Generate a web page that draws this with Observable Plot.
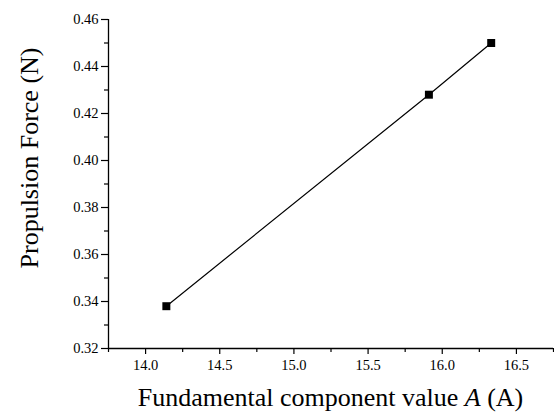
<!DOCTYPE html>
<html>
<head>
<meta charset="utf-8">
<script src="https://cdn.jsdelivr.net/npm/d3@7"></script>
<script src="https://cdn.jsdelivr.net/npm/@observablehq/plot@0.6"></script>
<style>
  html, body { margin: 0; padding: 0; background: #fff; }
  #chart svg { display: block; }
</style>
</head>
<body>
<div id="chart"></div>
<script>
// Fundamental current component vs. measured propulsion force
const currentA = [14.14, 15.91, 16.33];
const forceN = [0.338, 0.428, 0.450];

const xTicks = [14.0, 14.5, 15.0, 15.5, 16.0, 16.5];
const xMinor = [13.75, 14.25, 14.75, 15.25, 15.75, 16.25, 16.75];
const yTicks = [0.32, 0.34, 0.36, 0.38, 0.40, 0.42, 0.44, 0.46];
const yMinor = [0.33, 0.35, 0.37, 0.39, 0.41, 0.43, 0.45];

const xTitle = ["Fundamental component value ", "A", " (A)"];
const yTitle = "Propulsion Force (N)";

const points = currentA.map((a, i) => ({a, f: forceN[i]}));

const W = 554, H = 415;
const font = "Liberation Serif, Times New Roman, serif";

const plot = Plot.plot({
  width: W,
  height: H,
  marginLeft: 108,
  marginRight: 1,
  marginTop: 19,
  marginBottom: 67,
  style: {fontFamily: font, fontSize: "14.5px", color: "#000", background: "#fff"},
  x: {domain: [13.75, 16.75]},
  y: {domain: [0.32, 0.46]},
  marks: [
    Plot.axisX({ticks: xTicks, tickSize: 6, tickPadding: 5, tickFormat: d3.format(".1f"), label: null,
      fontFamily: font, fontSize: 14.5, strokeWidth: 1.2}),
    Plot.axisX({ticks: xMinor, tickSize: 4, text: null, label: null, strokeWidth: 1.2}),
    Plot.axisY({ticks: yTicks, tickSize: 7, tickPadding: 3, tickFormat: d3.format(".2f"), label: null,
      fontFamily: font, fontSize: 14.5, strokeWidth: 1.2}),
    Plot.axisY({ticks: yMinor, tickSize: 4, text: null, label: null, strokeWidth: 1.2}),
    Plot.ruleY([0.32], {strokeWidth: 1.3}),
    Plot.ruleX([13.75], {strokeWidth: 1.3}),
    Plot.line(points, {x: "a", y: "f", stroke: "#000", strokeWidth: 1.2}),
    Plot.dot(points, {x: "a", y: "f", symbol: "square", r: 4.5, fill: "#000", stroke: "none"})
  ]
});

const svg = d3.select(plot);

const xt = svg.append("text")
  .attr("x", (108 + W - 1) / 2)
  .attr("y", 406)
  .attr("text-anchor", "middle")
  .attr("font-family", font)
  .attr("font-size", 26)
  .attr("fill", "#000");
xt.append("tspan").text(xTitle[0]);
xt.append("tspan").attr("font-style", "italic").text(xTitle[1]);
xt.append("tspan").text(xTitle[2]);

svg.append("text")
  .attr("transform", "translate(38, 158) rotate(-90)")
  .attr("text-anchor", "middle")
  .attr("font-family", font)
  .attr("font-size", 26)
  .attr("fill", "#000")
  .text(yTitle);

document.getElementById("chart").appendChild(plot);
</script>
</body>
</html>
